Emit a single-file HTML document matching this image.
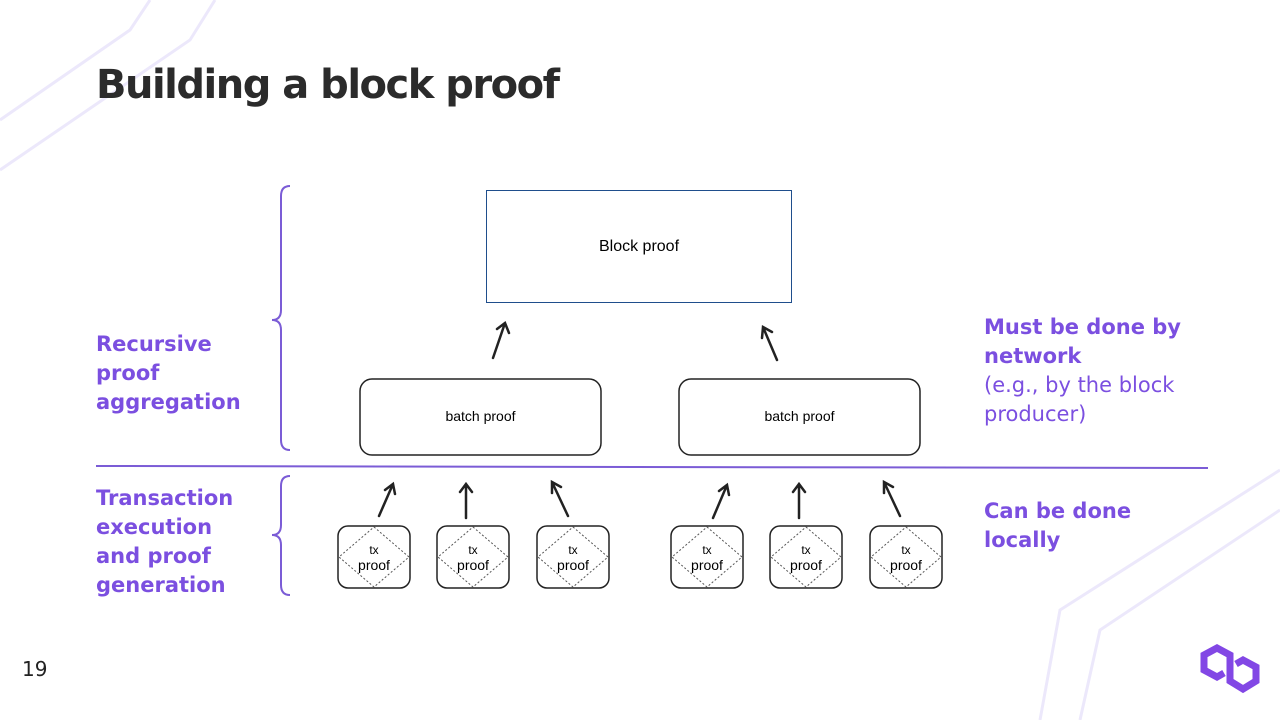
<!DOCTYPE html>
<html><head><meta charset="utf-8"><style>
body{margin:0;width:1280px;height:720px;overflow:hidden;background:#fff;font-family:"Liberation Sans",sans-serif;position:relative}
.t{position:absolute;font-family:"DejaVu Sans","Liberation Sans",sans-serif}
</style></head><body>
<svg width="1280" height="720" style="position:absolute;left:0;top:0">
<g stroke="#ece8fb" stroke-width="3" fill="none">
<path d="M0 120 L130 30 L150 0"/><path d="M0 170 L190 40 L215 0"/>
<path d="M1040 720 L1060 610 L1280 470"/><path d="M1080 720 L1100 630 L1280 510"/>
</g>
<g stroke="#7b5cd6" stroke-width="2" fill="none">
<path d="M290 186 Q281 186 281 196 L281 310 Q281 320 272 320 Q281 320 281 330 L281 440 Q281 450 290 450"/>
<path d="M290 476 Q281 476 281 486 L281 525 Q281 535 272 535 Q281 535 281 545 L281 585 Q281 595 290 595"/>
<line x1="96" y1="466" x2="1208" y2="468"/>
</g>
<rect x="486.5" y="190.5" width="305" height="112" fill="#fff" stroke="#1f4e8c" stroke-width="1"/>
<g stroke="#222" stroke-width="1.5" fill="#fff">
<rect x="360" y="379" width="241" height="76" rx="12"/>
<rect x="679" y="379" width="241" height="76" rx="12"/>
</g>
<g stroke="#222" stroke-width="2.5" fill="none" stroke-linecap="round">
<path d="M493 358 L505 323 M497 329 L505 323 L509 333"/>
<path d="M777 360 L763 327 M762 338 L763 327 L772 332"/>
</g>
<g id="tx">
<rect x="338" y="526" width="72" height="62" rx="10" fill="#fff" stroke="#222" stroke-width="1.5"/>
<path d="M374 527 L409 557 L374 587 L339 557 Z" fill="none" stroke="#555" stroke-width="1" stroke-dasharray="2,2"/>
<text x="374" y="554" font-size="12" text-anchor="middle" font-family="Liberation Sans,sans-serif">tx</text>
<text x="374" y="570" font-size="14" text-anchor="middle" font-family="Liberation Sans,sans-serif">proof</text>
</g>
<use href="#tx" x="99"/><use href="#tx" x="199"/><use href="#tx" x="333"/><use href="#tx" x="432"/><use href="#tx" x="532"/>
<g stroke="#222" stroke-width="2.5" fill="none" stroke-linecap="round">
<path d="M379 516 L393 484 M385 490 L393 484 L395 494"/>
<path d="M466 518 L466 484 M460 492 L466 484 L472 492"/>
<path d="M568 516 L552 482 M552 493 L552 482 L561 487"/>
<path d="M713 518 L727 485 M719 491 L727 485 L729 495"/>
<path d="M799 518 L799 484 M793 492 L799 484 L805 492"/>
<path d="M900 516 L884 482 M884 493 L884 482 L893 487"/>
</g>
<g stroke="#8247e5" stroke-width="7" fill="none" stroke-linejoin="miter">
<path d="M1230 667 L1230 655 L1217 648 L1204 655 L1204 670 L1217 677 L1224 673"/>
<path d="M1230 667 L1230 681 L1243 689 L1256 681 L1256 667 L1243 660 L1236 664"/>
</g>
</svg>
<div class="t" style="left:96px;top:62px;font-size:40px;letter-spacing:-1.5px;font-weight:bold;color:#2b2b2b">Building a block proof</div>
<div class="t" style="left:486px;top:238px;width:306px;text-align:center;font-family:'Liberation Sans',sans-serif;font-size:16px">Block proof</div>
<div class="t" style="left:360px;top:408px;width:241px;text-align:center;font-family:'Liberation Sans',sans-serif;font-size:14px">batch proof</div>
<div class="t" style="left:679px;top:408px;width:241px;text-align:center;font-family:'Liberation Sans',sans-serif;font-size:14px">batch proof</div>
<div class="t" style="left:96px;top:330px;font-size:21px;line-height:29px;font-weight:bold;color:#7b4fe0">Recursive<br>proof<br>aggregation</div>
<div class="t" style="left:96px;top:484px;font-size:21px;line-height:29px;font-weight:bold;color:#7b4fe0">Transaction<br>execution<br>and proof<br>generation</div>
<div class="t" style="left:984px;top:313px;font-size:21px;line-height:29px;color:#7b4fe0"><b>Must be done by<br>network</b><br>(e.g., by the block<br>producer)</div>
<div class="t" style="left:984px;top:497px;font-size:21px;line-height:29px;font-weight:bold;color:#7b4fe0">Can be done<br>locally</div>
<div class="t" style="left:22px;top:657px;font-size:20px;color:#222">19</div>
</body></html>
